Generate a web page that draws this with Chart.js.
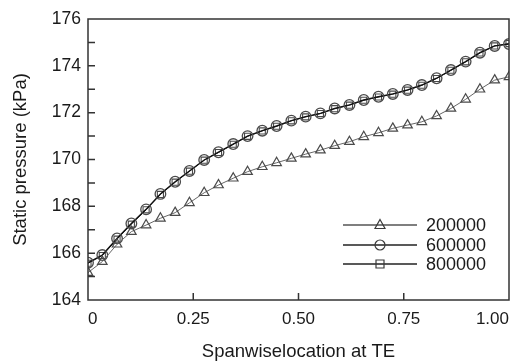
<!DOCTYPE html>
<html>
<head>
<meta charset="utf-8">
<script src="https://cdn.jsdelivr.net/npm/chart.js@4.4.1/dist/chart.umd.min.js"></script>
<style>
  html, body { margin: 0; padding: 0; background: #fff; }
  #wrap { width: 518px; height: 361px; }
</style>
</head>
<body>
<div id="wrap"><canvas id="chart" width="518" height="361"></canvas></div>
<script>
// spanwise location of each sample point at TE
const span = [0, 0.034, 0.069, 0.103, 0.138, 0.172, 0.207, 0.241, 0.276, 0.310,
  0.345, 0.379, 0.414, 0.448, 0.483, 0.517, 0.552, 0.586, 0.621, 0.655,
  0.690, 0.724, 0.759, 0.793, 0.828, 0.862, 0.897, 0.931, 0.966, 1.0];

// static pressure (kPa)
const p200000 = [165.17, 165.64, 166.38, 166.92, 167.20, 167.49, 167.73, 168.15, 168.58, 168.91,
  169.20, 169.48, 169.69, 169.86, 170.05, 170.23, 170.40, 170.59, 170.76, 170.97,
  171.14, 171.33, 171.47, 171.61, 171.86, 172.18, 172.57, 173.00, 173.39, 173.53];
const p600000 = [165.59, 165.92, 166.63, 167.27, 167.87, 168.53, 169.05, 169.51, 169.98, 170.31,
  170.66, 171.00, 171.23, 171.43, 171.66, 171.83, 171.97, 172.18, 172.33, 172.54,
  172.68, 172.80, 172.97, 173.18, 173.47, 173.82, 174.18, 174.56, 174.85, 174.93];
const p800000 = [165.57, 165.90, 166.60, 167.24, 167.85, 168.51, 169.03, 169.50, 169.97, 170.30,
  170.65, 170.99, 171.22, 171.42, 171.65, 171.82, 171.96, 172.17, 172.32, 172.53,
  172.67, 172.79, 172.96, 173.17, 173.46, 173.81, 174.17, 174.55, 174.85, 174.95];

const seriesNames = ["200000", "600000", "800000"];
const xTicks = [0, 0.25, 0.5, 0.75, 1.0];

const FONT = "'Liberation Sans', Arial, sans-serif";
const TEXT = "#1a1a1a";
const AXIS = "#333";

const toXY = vals => vals.map((v, i) => ({ x: span[i], y: v }));

// draw a hollow marker
function marker(ctx, style, x, y) {
  ctx.beginPath();
  if (style === "triangle") {
    ctx.moveTo(x, y - 5.5);
    ctx.lineTo(x + 5, y + 3.5);
    ctx.lineTo(x - 5, y + 3.5);
    ctx.closePath();
  } else if (style === "circle") {
    ctx.arc(x, y, 5, 0, Math.PI * 2);
  } else {
    ctx.rect(x - 4, y - 4, 8, 8);
  }
  ctx.stroke();
}

// box around the plot, inward ticks and the legend
const framePlugin = {
  id: "framePlugin",
  afterDraw: chart => {
    const ctx = chart.ctx;
    const a = chart.chartArea;
    const xs = chart.scales.x;
    const ys = chart.scales.y;
    ctx.save();
    ctx.strokeStyle = AXIS;
    ctx.lineWidth = 1.5;
    ctx.strokeRect(a.left, a.top, a.right - a.left, a.bottom - a.top);

    ctx.beginPath();
    for (let v = 165; v < 176; v++) {
      const py = ys.getPixelForValue(v);
      ctx.moveTo(a.left, py);
      ctx.lineTo(a.left + 7, py);
    }
    xTicks.slice(1, -1).forEach(v => {
      const px = xs.getPixelForValue(v);
      ctx.moveTo(px, a.bottom);
      ctx.lineTo(px, a.bottom - 7);
    });
    ctx.stroke();

    // legend
    const styles = ["triangle", "circle", "rect"];
    const rows = [225, 245, 264];
    ctx.font = "18px " + FONT;
    ctx.textBaseline = "middle";
    ctx.textAlign = "left";
    seriesNames.forEach((name, i) => {
      const y = rows[i];
      ctx.strokeStyle = i === 0 ? "#555" : "#222";
      ctx.lineWidth = 1.3;
      ctx.beginPath();
      ctx.moveTo(343, y);
      ctx.lineTo(417, y);
      ctx.stroke();
      ctx.strokeStyle = "#3a3a3a";
      ctx.lineWidth = 1.2;
      marker(ctx, styles[i], 380, y);
      ctx.fillStyle = TEXT;
      ctx.fillText(name, 426, y + 1);
    });
    ctx.restore();
  }
};

new Chart(document.getElementById("chart"), {
  type: "line",
  data: {
    datasets: [
      {
        label: seriesNames[0],
        data: toXY(p200000),
        borderColor: "#666",
        borderWidth: 1,
        pointStyle: "triangle",
        pointRadius: 5.5,
        pointBorderColor: "#4a4a4a",
        pointBackgroundColor: "rgba(0,0,0,0)",
        pointBorderWidth: 1.2
      },
      {
        label: seriesNames[1],
        data: toXY(p600000),
        borderColor: "#111",
        borderWidth: 1.4,
        pointStyle: "circle",
        pointRadius: 5.3,
        pointBorderColor: "#4a4a4a",
        pointBackgroundColor: "rgba(0,0,0,0)",
        pointBorderWidth: 1.3
      },
      {
        label: seriesNames[2],
        data: toXY(p800000),
        borderColor: "#222",
        borderWidth: 1,
        pointStyle: "rect",
        pointRadius: 4.3,
        pointBorderColor: "#4a4a4a",
        pointBackgroundColor: "rgba(0,0,0,0)",
        pointBorderWidth: 1.1
      }
    ]
  },
  options: {
    responsive: false,
    animation: false,
    devicePixelRatio: 1,
    layout: { padding: { top: 19, right: 4, left: 0, bottom: 0 } },
    plugins: {
      legend: { display: false },
      tooltip: { enabled: false }
    },
    scales: {
      x: {
        type: "linear",
        min: 0,
        max: 1,
        afterBuildTicks: scale => {
          scale.ticks = xTicks.map(v => ({ value: v }));
        },
        afterFit: scale => { scale.height = 61; },
        grid: { display: false, drawTicks: false },
        border: { display: false },
        ticks: {
          align: "inner",
          padding: 9,
          color: TEXT,
          font: { family: FONT, size: 17 },
          maxRotation: 0,
          callback: v => (v === 0 ? "0" : v.toFixed(2))
        },
        title: {
          display: true,
          text: "Spanwiselocation at TE",
          color: TEXT,
          font: { family: FONT, size: 18.5, lineHeight: 1.0 },
          padding: { top: 0, bottom: 0 }
        }
      },
      y: {
        min: 164,
        max: 176,
        afterFit: scale => { scale.width = 88; },
        grid: { display: false, drawTicks: false },
        border: { display: false },
        ticks: {
          stepSize: 1,
          autoSkip: false,
          padding: 7,
          color: TEXT,
          font: { family: FONT, size: 17.5 },
          callback: v => (v % 2 === 0 ? String(v) : "")
        },
        title: {
          display: true,
          text: "Static pressure (kPa)",
          color: TEXT,
          font: { family: FONT, size: 18.5 },
          padding: { top: 10, bottom: 0 }
        }
      }
    }
  },
  plugins: [framePlugin]
});
</script>
</body>
</html>
